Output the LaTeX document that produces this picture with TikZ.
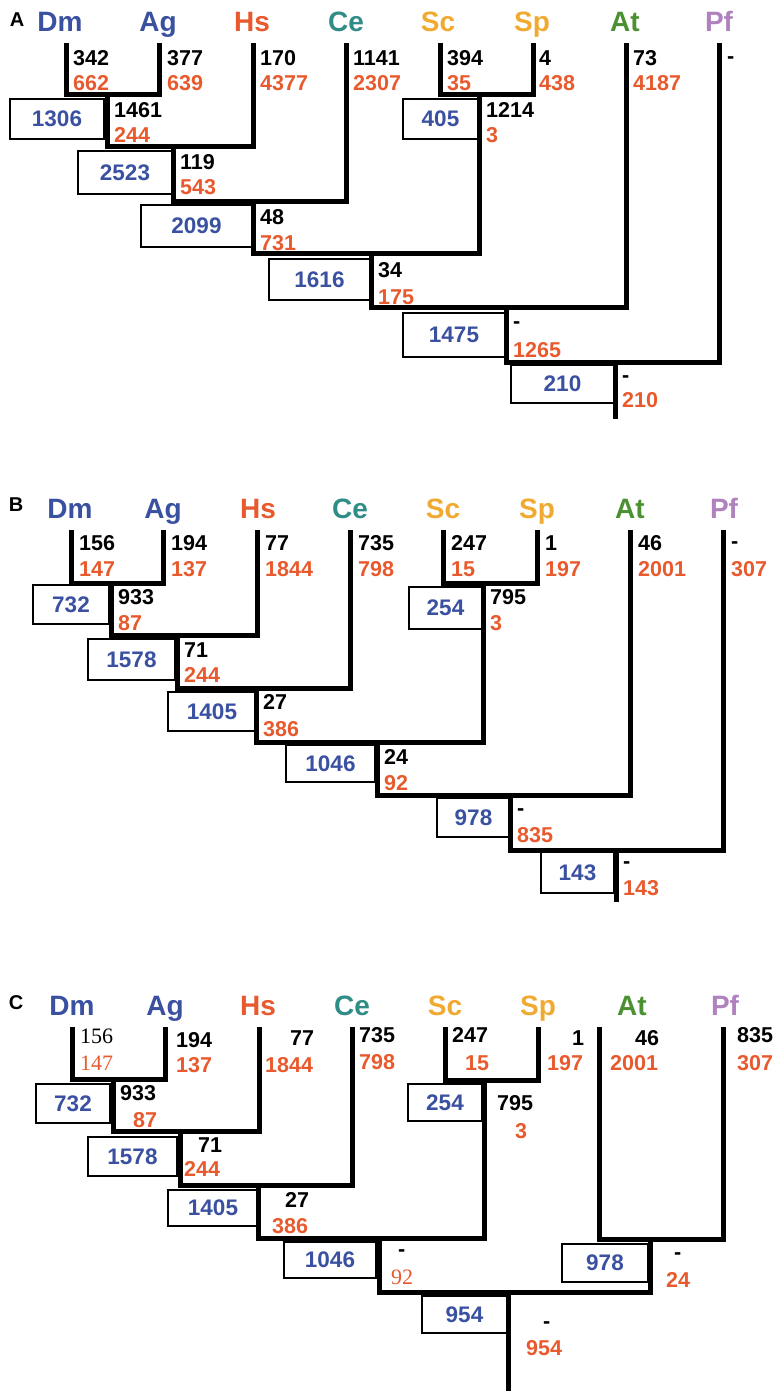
\documentclass[tikz,border=0pt]{standalone}
\usepackage{fontspec}
\setmainfont{Liberation Sans}
\newfontfamily\timesnum{Liberation Serif}
\definecolor{cblue}{RGB}{58,80,160}
\definecolor{corange}{RGB}{232,90,45}
\definecolor{cteal}{RGB}{48,140,135}
\definecolor{cyellow}{RGB}{240,170,50}
\definecolor{cgreen}{RGB}{75,145,50}
\definecolor{clilac}{RGB}{175,130,190}
\newcommand\valfont{\fontsize{21.5}{21.5}\selectfont\bfseries}
\newcommand\boxfont{\fontsize{22.5}{22.5}\selectfont\bfseries}
\newcommand\serfont{\fontsize{22}{22}\selectfont\timesnum}
\newcommand\taxfont{\fontsize{28}{28}\selectfont\bfseries}
\newcommand\letfont{\fontsize{20}{20}\selectfont\bfseries}
\begin{document}
\begin{tikzpicture}[x=1pt,y=-1pt,
  tree/.style={line width=5pt, line join=miter},
  valbox/.style={draw, line width=1.2pt, fill=white, inner sep=0, font=\boxfont, text=cblue},
  blk/.style={anchor=west, inner sep=0, font=\valfont, text=black},
  org/.style={anchor=west, inner sep=0, font=\valfont, text=corange},
  sblk/.style={anchor=west, inner sep=0, font=\serfont, text=black},
  sorg/.style={anchor=west, inner sep=0, font=\serfont, text=corange},
  taxon/.style={anchor=base, inner sep=0, font=\taxfont},
  panel/.style={inner sep=0, font=\letfont}]
\useasboundingbox (0,0) rectangle (776,1391);

% ================= Panel A =================
\node[panel] (aLetter) at (17,20) {A};
\foreach \n/\x/\c in {Dm/60/cblue, Ag/158/cblue, Hs/252/corange, Ce/346/cteal,
                      Sc/438/cyellow, Sp/532/cyellow, At/625/cgreen, Pf/719/clilac}
  \node[taxon, text=\c] (aT\n) at (\x,32) {\n};

\coordinate (aDm) at (66,43);  \coordinate (aAg) at (159,43);
\coordinate (aHs) at (253,43); \coordinate (aCe) at (346,43);
\coordinate (aSc) at (440,43); \coordinate (aSp) at (533,43);
\coordinate (aAt) at (626,43); \coordinate (aPf) at (719,43);
\coordinate (aP1) at (107,95);  \coordinate (aP2) at (173,147);
\coordinate (aP3) at (253,201); \coordinate (aPsc) at (479,95);
\coordinate (aP4) at (371,253); \coordinate (aP5) at (506,307);
\coordinate (aP6) at (615,362); \coordinate (aEnd) at (615,419);

\node[valbox, minimum width=94pt, minimum height=40pt] (aB1) at (57,119) {1306};
\node[valbox, minimum width=94pt, minimum height=43pt] (aB2) at (125,172.5) {2523};
\node[valbox, minimum width=111pt, minimum height=42pt] (aB3) at (196.5,226) {2099};
\node[valbox, minimum width=75pt, minimum height=40pt] (aBsc) at (440.5,119) {405};
\node[valbox, minimum width=101pt, minimum height=41pt] (aB4) at (319.5,279.5) {1616};
\node[valbox, minimum width=102pt, minimum height=44pt] (aB5) at (454,335) {1475};
\node[valbox, minimum width=103pt, minimum height=38pt] (aB6) at (562.5,384) {210};

\draw[tree] (aDm) |- (aP1) -| (aAg);
\draw[tree] (aP1) |- (aP2) -| (aHs);
\draw[tree] (aP2) |- (aP3) -| (aCe);
\draw[tree] (aSc) |- (aPsc) -| (aSp);
\draw[tree] (aP3) |- (aP4) -| (aPsc);
\draw[tree] (aP4) |- (aP5) -| (aAt);
\draw[tree] (aP5) |- (aP6) -| (aPf);
\draw[tree] (aP6) -- (aEnd);

\node[blk] (aDmK) at (73,58) {342};  \node[org] (aDmO) at (73,83) {662};
\node[blk] (aAgK) at (167,58) {377}; \node[org] (aAgO) at (167,83) {639};
\node[blk] (aHsK) at (260,58) {170}; \node[org] (aHsO) at (260,83) {4377};
\node[blk] (aCeK) at (353,58) {1141};\node[org] (aCeO) at (353,83) {2307};
\node[blk] (aScK) at (447,58) {394}; \node[org] (aScO) at (447,83) {35};
\node[blk] (aSpK) at (539,58) {4};   \node[org] (aSpO) at (539,83) {438};
\node[blk] (aAtK) at (633,58) {73};  \node[org] (aAtO) at (633,83) {4187};
\node[blk] (aPfK) at (727,60) {-};
\node[blk] (aP1K) at (114,110) {1461}; \node[org] (aP1O) at (114,135) {244};
\node[blk] (aP2K) at (180,162) {119};  \node[org] (aP2O) at (180,187) {543};
\node[blk] (aP3K) at (260,217) {48};   \node[org] (aP3O) at (260,243) {731};
\node[blk] (aPscK) at (486,110) {1214};\node[org] (aPscO) at (486,135) {3};
\node[blk] (aP4K) at (378,270) {34};   \node[org] (aP4O) at (378,297) {175};
\node[blk] (aP5K) at (513,325) {-};    \node[org] (aP5O) at (513,350) {1265};
\node[blk] (aP6K) at (622,379) {-};    \node[org] (aP6O) at (622,400) {210};

% ================= Panel B =================
\node[panel] (bLetter) at (16,505) {B};
\foreach \n/\x/\c in {Dm/70/cblue, Ag/163/cblue, Hs/258/corange, Ce/350/cteal,
                      Sc/443/cyellow, Sp/537/cyellow, At/630/cgreen, Pf/724/clilac}
  \node[taxon, text=\c] (bT\n) at (\x,518) {\n};

\coordinate (bDm) at (71,530);  \coordinate (bAg) at (163,530);
\coordinate (bHs) at (257,530); \coordinate (bCe) at (350,530);
\coordinate (bSc) at (443,530); \coordinate (bSp) at (537,530);
\coordinate (bAt) at (630,530); \coordinate (bPf) at (723,530);
\coordinate (bP1) at (111,583);  \coordinate (bP2) at (177,635);
\coordinate (bP3) at (256,688);  \coordinate (bPsc) at (483,583);
\coordinate (bP4) at (377,742);  \coordinate (bP5) at (510,795);
\coordinate (bP6) at (616,850);  \coordinate (bEnd) at (616,902);

\node[valbox, minimum width=76pt, minimum height=39pt] (bB1) at (71,604.5) {732};
\node[valbox, minimum width=87pt, minimum height=41pt] (bB2) at (131.5,659.5) {1578};
\node[valbox, minimum width=88pt, minimum height=39pt] (bB3) at (212,711.5) {1405};
\node[valbox, minimum width=73pt, minimum height=42pt] (bBsc) at (445.5,608) {254};
\node[valbox, minimum width=89pt, minimum height=37pt] (bB4) at (330.5,763.5) {1046};
\node[valbox, minimum width=73pt, minimum height=39pt] (bB5) at (473.5,817.5) {978};
\node[valbox, minimum width=73pt, minimum height=41pt] (bB6) at (577.5,872.5) {143};

\draw[tree] (bDm) |- (bP1) -| (bAg);
\draw[tree] (bP1) |- (bP2) -| (bHs);
\draw[tree] (bP2) |- (bP3) -| (bCe);
\draw[tree] (bSc) |- (bPsc) -| (bSp);
\draw[tree] (bP3) |- (bP4) -| (bPsc);
\draw[tree] (bP4) |- (bP5) -| (bAt);
\draw[tree] (bP5) |- (bP6) -| (bPf);
\draw[tree] (bP6) -- (bEnd);

\node[blk] (bDmK) at (79,543) {156};  \node[org] (bDmO) at (79,569) {147};
\node[blk] (bAgK) at (171,543) {194}; \node[org] (bAgO) at (171,569) {137};
\node[blk] (bHsK) at (265,543) {77};  \node[org] (bHsO) at (265,569) {1844};
\node[blk] (bCeK) at (358,543) {735}; \node[org] (bCeO) at (358,569) {798};
\node[blk] (bScK) at (451,543) {247}; \node[org] (bScO) at (451,569) {15};
\node[blk] (bSpK) at (545,543) {1};   \node[org] (bSpO) at (545,569) {197};
\node[blk] (bAtK) at (638,543) {46};  \node[org] (bAtO) at (638,569) {2001};
\node[blk] (bPfK) at (731,545) {-};   \node[org] (bPfO) at (731,569) {307};
\node[blk] (bP1K) at (118,597) {933};  \node[org] (bP1O) at (118,623) {87};
\node[blk] (bP2K) at (184,650) {71};   \node[org] (bP2O) at (184,675) {244};
\node[blk] (bP3K) at (263,702) {27};   \node[org] (bP3O) at (263,729) {386};
\node[blk] (bPscK) at (490,597) {795}; \node[org] (bPscO) at (490,623) {3};
\node[blk] (bP4K) at (384,757) {24};   \node[org] (bP4O) at (384,783) {92};
\node[blk] (bP5K) at (517,812) {-};    \node[org] (bP5O) at (517,835) {835};
\node[blk] (bP6K) at (623,865) {-};    \node[org] (bP6O) at (623,888) {143};

% ================= Panel C =================
\node[panel] (cLetter) at (16,1003) {C};
\foreach \n/\x/\c in {Dm/72/cblue, Ag/165/cblue, Hs/258/corange, Ce/352/cteal,
                      Sc/445/cyellow, Sp/538/cyellow, At/632/cgreen, Pf/725/clilac}
  \node[taxon, text=\c] (cT\n) at (\x,1015) {\n};

\coordinate (cDm) at (72,1027);  \coordinate (cAg) at (165,1027);
\coordinate (cHs) at (259,1027); \coordinate (cCe) at (352,1027);
\coordinate (cSc) at (445,1027); \coordinate (cSp) at (538,1027);
\coordinate (cAt) at (599,1027); \coordinate (cPf) at (723,1027);
\coordinate (cP1) at (113,1079);  \coordinate (cP2) at (180,1131);
\coordinate (cP3) at (258,1185);  \coordinate (cPsc) at (484,1080);
\coordinate (cP4) at (379,1238);  \coordinate (cPat) at (650,1239);
\coordinate (cP5) at (508,1292);  \coordinate (cEnd) at (508,1391);

\node[valbox, minimum width=74pt, minimum height=39pt] (cB1) at (73,1103.5) {732};
\node[valbox, minimum width=89pt, minimum height=39pt] (cB2) at (132.5,1156.5) {1578};
\node[valbox, minimum width=90pt, minimum height=36pt] (cB3) at (213,1208) {1405};
\node[valbox, minimum width=74pt, minimum height=37pt] (cBsc) at (445,1102.5) {254};
\node[valbox, minimum width=92pt, minimum height=36pt] (cB4) at (330,1260) {1046};
\node[valbox, minimum width=86pt, minimum height=38pt] (cBat) at (605,1263) {978};
\node[valbox, minimum width=85pt, minimum height=37pt] (cB5) at (464.5,1314.5) {954};

\draw[tree] (cDm) |- (cP1) -| (cAg);
\draw[tree] (cP1) |- (cP2) -| (cHs);
\draw[tree] (cP2) |- (cP3) -| (cCe);
\draw[tree] (cSc) |- (cPsc) -| (cSp);
\draw[tree] (cP3) |- (cP4) -| (cPsc);
\draw[tree] (cAt) |- (cPat) -| (cPf);
\draw[tree] (cP4) |- (cP5) -| (cPat);
\draw[tree] (cP5) -- (cEnd);

\node[sblk] (cDmK) at (80,1036) {156}; \node[sorg] (cDmO) at (80,1063) {147};
\node[blk] (cAgK) at (176,1040) {194}; \node[org] (cAgO) at (176,1065) {137};
\node[blk] (cHsK) at (290,1038) {77};  \node[org] (cHsO) at (265,1065) {1844};
\node[blk] (cCeK) at (359,1035) {735}; \node[org] (cCeO) at (359,1062) {798};
\node[blk] (cScK) at (452,1035) {247}; \node[org] (cScO) at (465,1063) {15};
\node[blk] (cSpK) at (572,1038) {1};   \node[org] (cSpO) at (547,1063) {197};
\node[blk] (cAtK) at (635,1038) {46};  \node[org] (cAtO) at (610,1063) {2001};
\node[blk] (cPfK) at (737,1035) {835}; \node[org] (cPfO) at (737,1063) {307};
\node[blk] (cP1K) at (120,1093) {933}; \node[org] (cP1O) at (133,1120) {87};
\node[blk] (cP2K) at (198,1145) {71};  \node[org] (cP2O) at (184,1169) {244};
\node[blk] (cP3K) at (285,1200) {27};  \node[org] (cP3O) at (272,1226) {386};
\node[blk] (cPscK) at (497,1103) {795};\node[org] (cPscO) at (515,1131) {3};
\node[blk] (cP4K) at (398,1253) {-};   \node[sorg] (cP4O) at (391,1277) {92};
\node[blk] (cPatK) at (674,1256) {-};  \node[org] (cPatO) at (666,1280) {24};
\node[blk] (cP5K) at (543,1325) {-};   \node[org] (cP5O) at (526,1348) {954};
\end{tikzpicture}
\end{document}
